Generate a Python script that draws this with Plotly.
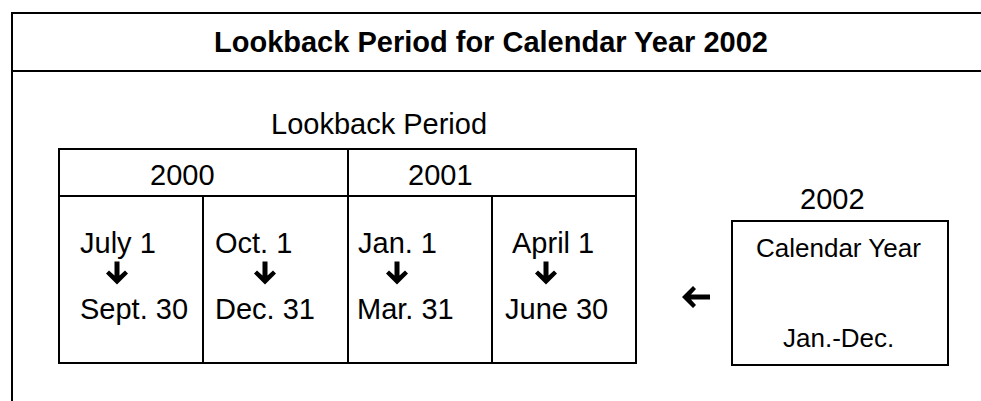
import plotly.graph_objects as go

# ---- content ----
title_text = "Lookback Period for Calendar Year 2002"
lookback_label = "Lookback Period"
header_years = ["2000", "2001"]
start_dates = ["July 1", "Oct. 1", "Jan. 1", "April 1"]
end_dates = ["Sept. 30", "Dec. 31", "Mar. 31", "June 30"]
current_year = "2002"
current_lines = ["Calendar Year", "Jan.-Dec."]

# ---- layout geometry (pixel space) ----
W, H = 981, 401
FONT = "Liberation Sans, Arial, sans-serif"
col_edges = [59, 203, 348, 492, 636]
tbl_top, tbl_hdr, tbl_bot = 149, 196, 363
year_x = [182, 440]
start_x = [78, 213, 356, 510]
end_x = [78, 213, 355, 503]
arrow_x = [117, 265, 397, 546]
row1_y, arrow_y, row2_y = 243, 273, 309
box = dict(x0=732, x1=948, y0=221, y1=365)

shapes = []
line = dict(color="black", width=2)
# outer frame
shapes.append(dict(type="line", x0=11, x1=W + 5, y0=13, y1=13, line=line))
shapes.append(dict(type="line", x0=12, x1=12, y0=13, y1=H + 5, line=line))
shapes.append(dict(type="line", x0=12, x1=W + 5, y0=71, y1=71, line=line))
# table
shapes.append(dict(type="rect", x0=col_edges[0], x1=col_edges[-1], y0=tbl_top, y1=tbl_bot, line=line))
shapes.append(dict(type="line", x0=col_edges[0], x1=col_edges[-1], y0=tbl_hdr, y1=tbl_hdr, line=line))
shapes.append(dict(type="line", x0=col_edges[2], x1=col_edges[2], y0=tbl_top, y1=tbl_bot, line=line))
for i in (1, 3):
    shapes.append(dict(type="line", x0=col_edges[i], x1=col_edges[i], y0=tbl_hdr, y1=tbl_bot, line=line))
# current year box
shapes.append(dict(type="rect", line=line, **box))


def down_arrow(cx, cy):
    tip = cy + 11.5
    pts = [(-2.5, -23), (2.5, -23), (2.5, -9), (8, -14), (11, -11), (0, 0),
           (-11, -11), (-8, -14), (-2.5, -9)]
    return "M " + " L ".join(f"{cx + dx},{tip + dy}" for dx, dy in pts) + " Z"


def left_arrow(cx, cy):
    tip = cx - 14
    pts = [(0, 0), (11, -11), (14, -8), (9, -2.5), (28, -2.5), (28, 2.5),
           (9, 2.5), (14, 8), (11, 11)]
    return "M " + " L ".join(f"{tip + dx},{cy + dy}" for dx, dy in pts) + " Z"


for ax in arrow_x:
    shapes.append(dict(type="path", path=down_arrow(ax, arrow_y), fillcolor="black",
                       line=dict(width=0)))
shapes.append(dict(type="path", path=left_arrow(696, 297), fillcolor="black", line=dict(width=0)))

ann = []


def txt(s, x, y, size=29, xanchor="center", bold=False):
    ann.append(dict(text=f"<b>{s}</b>" if bold else s, x=x, y=y, xref="x", yref="y",
                    xanchor=xanchor, yanchor="middle", showarrow=False,
                    font=dict(family=FONT, size=size, color="black")))


txt(title_text, 491, 42, bold=True)
txt(lookback_label, 379, 124)
for s, x in zip(header_years, year_x):
    txt(s, x, 175)
for s, x in zip(start_dates, start_x):
    txt(s, x, row1_y, xanchor="left")
for s, x in zip(end_dates, end_x):
    txt(s, x, row2_y, xanchor="left")
txt(current_year, 832, 199)
txt(current_lines[0], 838, 248, size=26)
txt(current_lines[1], 838, 338, size=26)

fig = go.Figure()
fig.update_layout(
    width=W, height=H, margin=dict(l=0, r=0, t=0, b=0),
    paper_bgcolor="white", plot_bgcolor="white",
    xaxis=dict(range=[0, W], visible=False, fixedrange=True),
    yaxis=dict(range=[H, 0], visible=False, fixedrange=True),
    shapes=shapes, annotations=ann, showlegend=False,
)
fig.write_html(
    "out.html",
    config={"displayModeBar": False},
    post_script="document.body.style.margin='0';document.body.style.overflow='hidden';",
)
